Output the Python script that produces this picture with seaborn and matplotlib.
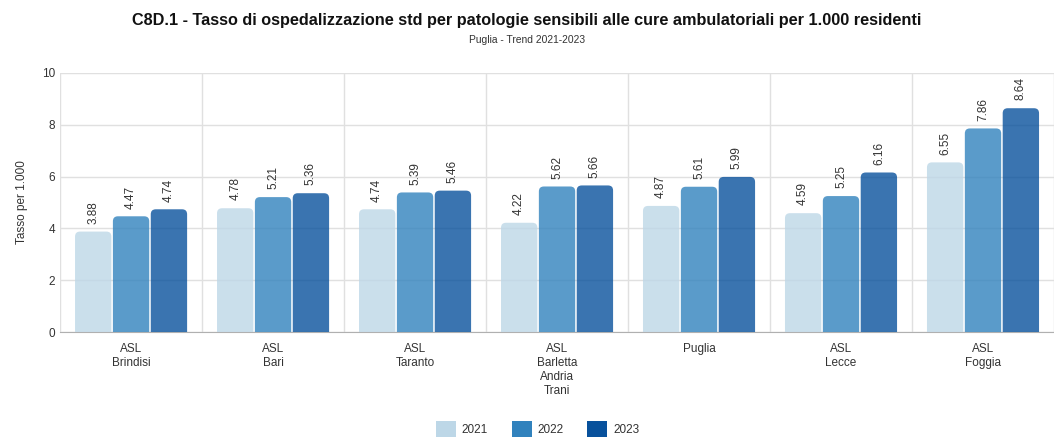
import matplotlib
matplotlib.use('Agg')
import matplotlib.pyplot as plt
from matplotlib.patches import FancyBboxPatch, Patch
import numpy as np
import pandas as pd
import seaborn as sns

# data
aziende = ['ASL\nBrindisi', 'ASL\nBari', 'ASL\nTaranto', 'ASL\nBarletta\nAndria\nTrani',
           'Puglia', 'ASL\nLecce', 'ASL\nFoggia']
anni = ['2021', '2022', '2023']
v2021 = [3.88, 4.78, 4.74, 4.22, 4.87, 4.59, 6.55]
v2022 = [4.47, 5.21, 5.39, 5.62, 5.61, 5.25, 7.86]
v2023 = [4.74, 5.36, 5.46, 5.66, 5.99, 6.16, 8.64]
colori = ['#bdd7e7', '#3182bd', '#08519c']

df = pd.DataFrame({
    'azienda': aziende * 3,
    'anno': np.repeat(anni, len(aziende)),
    'valore': v2021 + v2022 + v2023,
})

sns.set_style('white')
plt.rcParams['font.family'] = ['Liberation Sans', 'DejaVu Sans']

fig = plt.figure(figsize=(10.54, 4.37), dpi=100)
ax = fig.add_axes([0.057, 0.240, 0.943, 0.593])

sns.barplot(data=df, x='azienda', y='valore', hue='anno', palette=colori, saturation=1,
            width=0.8, gap=0.04, alpha=0.8, legend=False, ax=ax, zorder=3)

ax.set_ylim(0, 10)
ax.set_xlim(-0.5, 6.5)

# rounded top corners: replace each bar with a rounded box clipped at y=0
px_x = 7 / 1054 / 0.943   # data units per pixel in x
px_y = 10 / 259
r = 5
for p in list(ax.patches):
    x0, y0 = p.get_x(), p.get_y()
    w, h = p.get_width(), p.get_height()
    fb = FancyBboxPatch((x0, -r * px_y), w, h + r * px_y,
                        boxstyle=f'round,pad=0,rounding_size={r * px_x}',
                        mutation_aspect=px_y / px_x,
                        facecolor=p.get_facecolor(), edgecolor='none', zorder=3)
    ax.add_patch(fb)
    ax.text(x0 + w / 2, h + 0.3, f'{h:.2f}', rotation=90, ha='center', va='bottom',
            fontsize=8.5, color='#333333')
    p.remove()

ax.set_yticks(range(0, 11, 2))
ax.grid(axis='y', color='#e0e0e0', linewidth=1, zorder=0)
for xs in np.arange(-0.5, 7, 1):
    ax.axvline(xs, color='#e0e0e0', linewidth=1, zorder=0)

for s in ['top', 'right', 'left']:
    ax.spines[s].set_visible(False)
ax.spines['bottom'].set_color('#b0b0b0')

ax.tick_params(axis='both', length=0, labelsize=8.5, labelcolor='#333333')
ax.tick_params(axis='x', pad=8)
ax.set_xlabel('')
ax.set_ylabel('Tasso per 1.000', fontsize=8.5, color='#333333', labelpad=10)

fig.text(0.5, 0.952, 'C8D.1 - Tasso di ospedalizzazione std per patologie sensibili alle cure ambulatoriali per 1.000 residenti',
         ha='center', va='center', fontsize=11.7, fontweight='bold', color='#111111')
fig.text(0.5, 0.909, 'Puglia - Trend 2021-2023', ha='center', va='center',
         fontsize=7.4, color='#333333')

handles = [Patch(facecolor=c, edgecolor='none', label=a) for c, a in zip(colori, anni)]
fig.legend(handles=handles, loc='lower center', bbox_to_anchor=(0.51, -0.025), ncol=3,
           frameon=False, fontsize=8.5, handlelength=1.7, handleheight=1.7,
           columnspacing=2.0, handletextpad=0.5, labelcolor='#333333')

fig.savefig('out.png', dpi=100)
